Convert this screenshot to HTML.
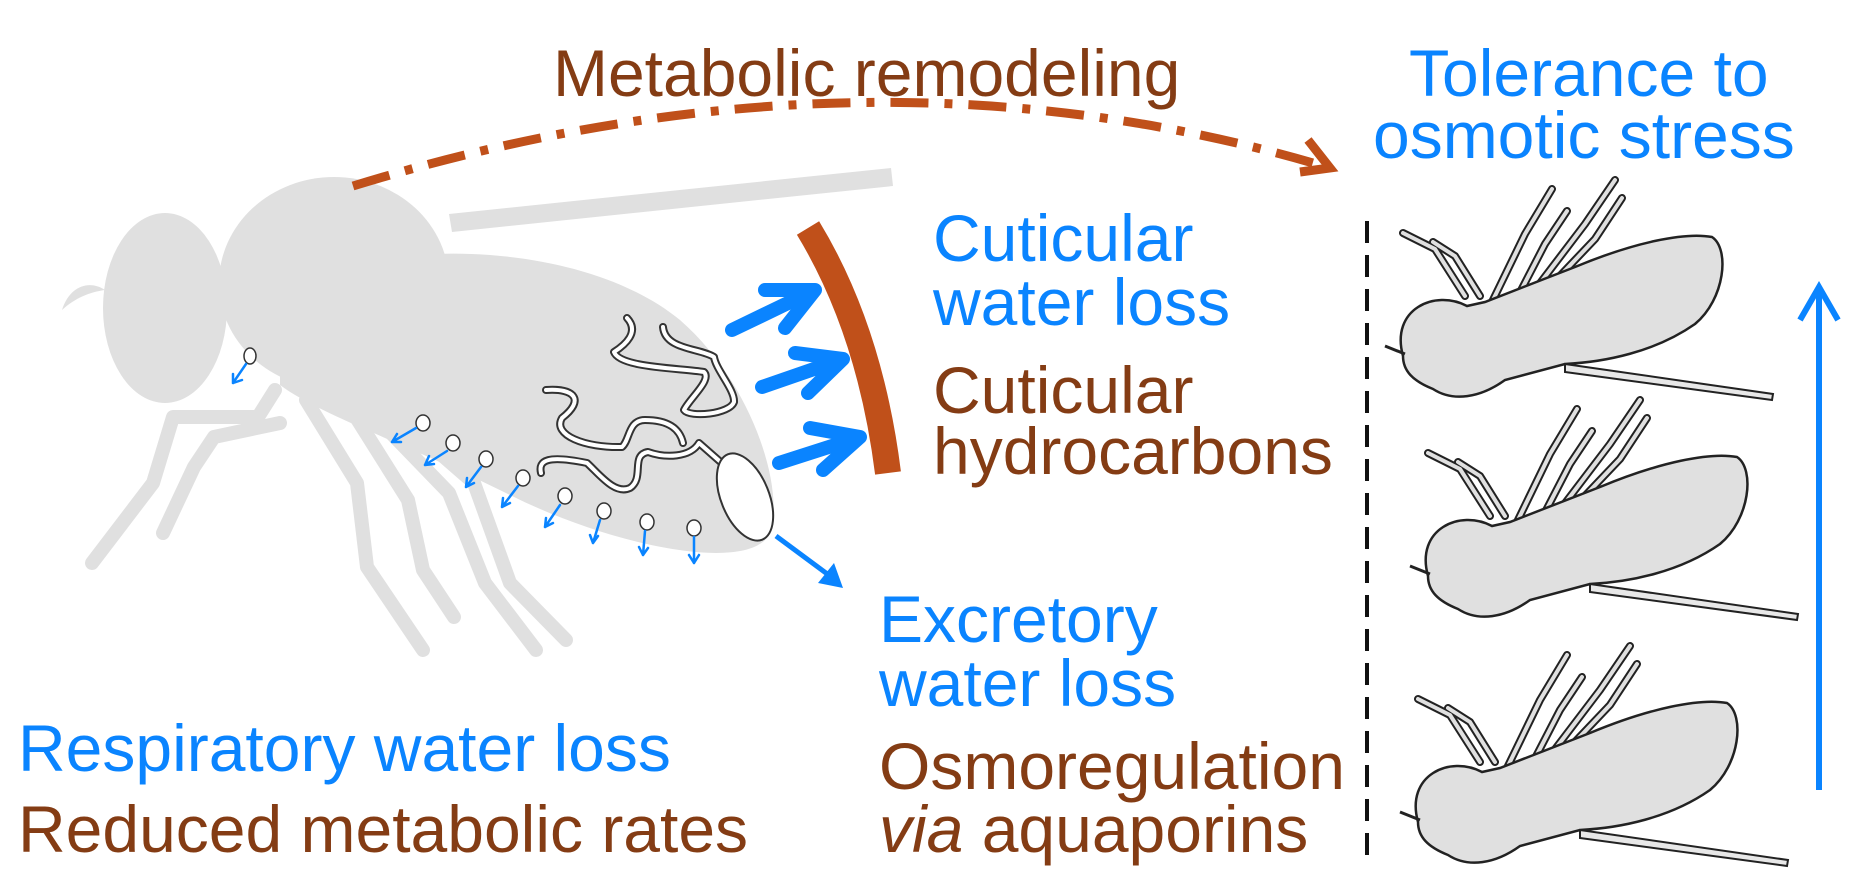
<!DOCTYPE html>
<html><head><meta charset="utf-8"><style>
html,body{margin:0;padding:0;background:#fff;}
svg{display:block;}
text{font-family:"Liberation Sans",Arial,sans-serif;font-size:66px;}
.b{fill:#0a84ff;} .r{fill:#843c14;}
</style></head><body>
<svg width="1875" height="892" viewBox="0 0 1875 892" xmlns="http://www.w3.org/2000/svg">
<defs>
<g id="fly">
  <g stroke="#222" stroke-width="8" fill="none" stroke-linejoin="round" stroke-linecap="round">
    <path d="M1480,762 L1450,715 L1418,699"/><path d="M1495,762 L1470,722 L1448,708"/>
    <path d="M1507,768 L1540,700 L1567,655"/><path d="M1530,768 L1560,710 L1582,677"/>
    <path d="M1543,765 L1600,690 L1630,646"/><path d="M1553,765 L1610,705 L1637,664"/>
  </g>
  <g stroke="#e0e0e0" stroke-width="4" fill="none" stroke-linejoin="round" stroke-linecap="round">
    <path d="M1480,762 L1450,715 L1418,699"/><path d="M1495,762 L1470,722 L1448,708"/>
    <path d="M1507,768 L1540,700 L1567,655"/><path d="M1530,768 L1560,710 L1582,677"/>
    <path d="M1543,765 L1600,690 L1630,646"/><path d="M1553,765 L1610,705 L1637,664"/>
  </g>
  <path d="M1418,822 C1405,775 1450,755 1482,772 L1500,768 L1590,733 C1650,708 1700,698 1727,703 C1745,715 1740,765 1710,790 C1670,818 1620,828 1580,830 L1520,846 C1495,864 1468,868 1448,855 C1428,847 1418,837 1418,822 Z" fill="#e0e0e0" stroke="#222" stroke-width="2.5"/>
  <path d="M1420,820 L1400,812" stroke="#222" stroke-width="3"/>
  <path d="M1580,830 L1788,860 L1787,866 L1580,838 Z" fill="#e8e8e8" stroke="#222" stroke-width="2"/>
</g>
</defs>

<g fill="#e0e0e0" stroke="none">
  <path d="M449,214 L891,168 L893,186 L452,232 Z"/>
  <ellipse cx="165" cy="308" rx="62" ry="95"/>
  <ellipse cx="334" cy="283" rx="115" ry="106"/>
  <path d="M280,300 C340,240 570,230 680,320 C760,390 790,510 765,540 C735,570 610,545 510,495 C410,445 320,415 280,385 Z"/>
  <path d="M62,310 C70,285 90,280 105,290 C90,292 75,298 62,310 Z"/>
</g>
<g stroke="#e0e0e0" stroke-width="14" fill="none" stroke-linejoin="round" stroke-linecap="round">
  <path d="M275,390 L258,417 L173,417 L153,483 L92,563"/>
  <path d="M280,423 L214,437 L194,467 L163,533"/>
  <path d="M306,400 L357,483 L367,567 L423,650"/>
  <path d="M347,403 L408,500 L423,570 L454,617"/>
  <path d="M362,403 L449,493 L485,583 L536,650"/>
  <path d="M382,403 L474,483 L510,583 L566,640"/>
</g>

<g fill="none" stroke-linecap="round" stroke-linejoin="round">
  <g stroke="#333" stroke-width="8">
    <path d="M627,318 C640,332 625,345 614,352 C620,368 680,368 704,372 C712,380 690,398 684,410 C690,418 730,414 734,402 C735,390 716,370 714,357 C700,348 665,350 663,327"/>
    <path d="M546,390 C575,388 585,400 562,418 C552,435 585,448 622,447 C630,440 628,420 645,420 C670,420 680,430 683,443"/>
    <path d="M541,473 C538,460 548,455 587,463 C600,475 615,495 630,488 C645,478 630,455 648,452 C665,458 690,458 699,443 L724,465"/>
  </g>
  <g stroke="#fff" stroke-width="4">
    <path d="M627,318 C640,332 625,345 614,352 C620,368 680,368 704,372 C712,380 690,398 684,410 C690,418 730,414 734,402 C735,390 716,370 714,357 C700,348 665,350 663,327"/>
    <path d="M546,390 C575,388 585,400 562,418 C552,435 585,448 622,447 C630,440 628,420 645,420 C670,420 680,430 683,443"/>
    <path d="M541,473 C538,460 548,455 587,463 C600,475 615,495 630,488 C645,478 630,455 648,452 C665,458 690,458 699,443 L724,465"/>
  </g>
</g>
<ellipse cx="745" cy="497" rx="24" ry="46" transform="rotate(-22 745 497)" fill="#fff" stroke="#333" stroke-width="2"/>

<g fill="#fff" stroke="#333" stroke-width="1.5">
  <ellipse cx="250" cy="356" rx="6" ry="8"/><ellipse cx="423" cy="423" rx="7" ry="8"/>
  <ellipse cx="453" cy="443" rx="7" ry="8"/><ellipse cx="486" cy="459" rx="7" ry="8"/>
  <ellipse cx="523" cy="478" rx="7" ry="8"/><ellipse cx="565" cy="496" rx="7" ry="8"/>
  <ellipse cx="604" cy="511" rx="7" ry="8"/><ellipse cx="647" cy="522" rx="7" ry="8"/>
  <ellipse cx="694" cy="528" rx="7" ry="8"/>
</g>
<g stroke="#0a84ff" stroke-width="2.5" fill="none" stroke-linecap="round">
  <path d="M246,364 L233,383 M233,383 L233,374 M233,383 L242,380"/>
  <path d="M416,428 L392,442 M392,442 L397,434 M392,442 L401,442"/>
  <path d="M447,451 L425,465 M425,465 L429,456 M425,465 L434,464"/>
  <path d="M481,467 L466,487 M466,487 L467,478 M466,487 L474,483"/>
  <path d="M518,486 L502,507 M502,507 L503,498 M502,507 L510,503"/>
  <path d="M560,505 L545,527 M545,527 L546,518 M545,527 L553,523"/>
  <path d="M600,520 L593,543 M593,543 L590,535 M593,543 L598,536"/>
  <path d="M645,531 L643,555 M643,555 L639,547 M643,555 L648,548"/>
  <path d="M694,537 L694,563 M694,563 L689,555 M694,563 L699,555"/>
</g>

<path d="M353,186 Q860,30 1320,165" fill="none" stroke="#c0501a" stroke-width="9" stroke-dasharray="38,16,8,16"/>
<path d="M1308,140 L1330,168 L1300,172" fill="none" stroke="#c0501a" stroke-width="9"/>

<path d="M808,228 Q870,330 888,473" fill="none" stroke="#c0501a" stroke-width="26"/>

<g stroke="#0a84ff" stroke-width="14" fill="none" stroke-linecap="round" stroke-linejoin="round">
  <path d="M732,330 L815,290 M765,290 L815,290 L785,328"/>
  <path d="M762,387 L843,359 M795,353 L843,359 L808,393"/>
  <path d="M779,463 L860,437 M810,428 L860,437 L823,470"/>
</g>
<path d="M776,536 L830,576" stroke="#0a84ff" stroke-width="5"/>
<path d="M843,588 L818,583 L834,563 Z" fill="#0a84ff"/>

<line x1="1367" y1="221" x2="1367" y2="862" stroke="#111" stroke-width="4" stroke-dasharray="22,12"/>
<line x1="1819" y1="290" x2="1819" y2="790" stroke="#0a84ff" stroke-width="6"/>
<path d="M1800,320 L1819,287 L1838,320" fill="none" stroke="#0a84ff" stroke-width="6"/>

<use href="#fly"/>
<use href="#fly" transform="translate(10,-246)"/>
<use href="#fly" transform="translate(-15,-466)"/>

<text x="553" y="96" class="r">Metabolic remodeling</text>
<text x="1409" y="96" class="b">Tolerance to</text>
<text x="1373" y="158" class="b">osmotic stress</text>
<text x="933" y="261" class="b">Cuticular</text>
<text x="933" y="325" class="b">water loss</text>
<text x="933" y="413" class="r">Cuticular</text>
<text x="933" y="474" class="r">hydrocarbons</text>
<text x="879" y="642" class="b">Excretory</text>
<text x="879" y="706" class="b">water loss</text>
<text x="879" y="789" class="r">Osmoregulation</text>
<text x="879" y="852" class="r"><tspan font-style="italic">via</tspan> aquaporins</text>
<text x="18" y="771" class="b">Respiratory water loss</text>
<text x="18" y="852" class="r">Reduced metabolic rates</text>
</svg>
</body></html>
